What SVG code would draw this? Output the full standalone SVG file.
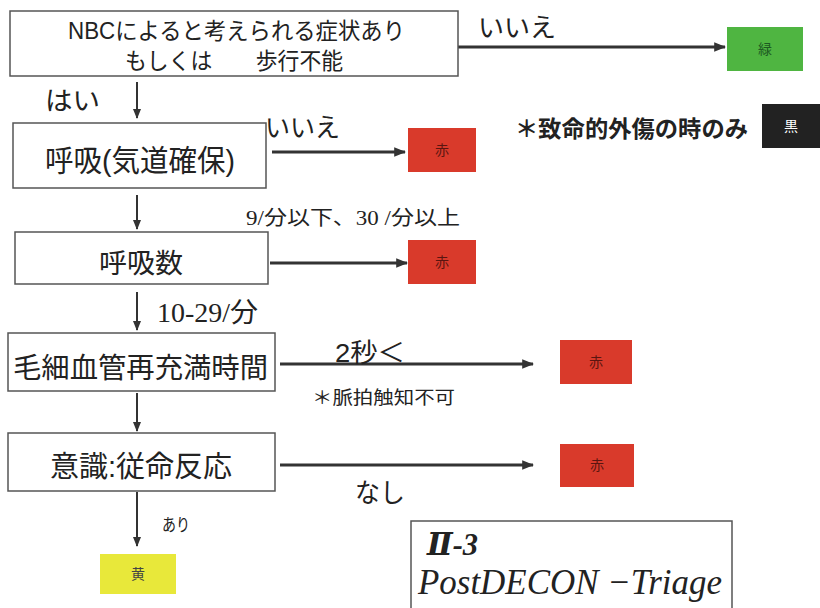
<svg xmlns="http://www.w3.org/2000/svg" width="820" height="608" viewBox="0 0 820 608">
<style>
.box{fill:#fff;stroke:#555;stroke-width:1.5}
.t{font-family:"Liberation Sans","Noto Sans CJK JP",sans-serif;fill:#222}
.s{font-family:"Liberation Serif","DejaVu Serif","Noto Sans CJK JP",serif;fill:#222}
.ln{stroke:#333;stroke-width:3;fill:none}
.lv{stroke:#333;stroke-width:2;fill:none}
.red{fill:#d93a2b}
.tag{font-family:"Noto Sans CJK JP",sans-serif;font-size:14px;text-anchor:middle}
</style>
<defs>
<marker id="ah" viewBox="0 0 10 10" refX="9" refY="5" markerWidth="4" markerHeight="4" orient="auto" markerUnits="strokeWidth"><path d="M0,1 L10,5 L0,9 Z" fill="#333"/></marker>
<marker id="av" viewBox="0 0 10 10" refX="9" refY="5" markerWidth="5" markerHeight="5" orient="auto" markerUnits="strokeWidth"><path d="M0,1 L10,5 L0,9 Z" fill="#333"/></marker>
</defs>
<rect width="820" height="608" fill="#fff"/>

<g id="connectors">
<line class="ln" x1="458" y1="47" x2="725" y2="47" marker-end="url(#ah)"/>
<line class="lv" x1="137" y1="82" x2="137" y2="118" marker-end="url(#av)"/>
<line class="ln" x1="272" y1="152" x2="405" y2="152" marker-end="url(#ah)"/>
<line class="lv" x1="137" y1="195" x2="137" y2="229" marker-end="url(#av)"/>
<line class="ln" x1="270" y1="263" x2="407" y2="263" marker-end="url(#ah)"/>
<line class="lv" x1="137" y1="292" x2="137" y2="330" marker-end="url(#av)"/>
<line class="ln" x1="280" y1="364" x2="533" y2="364" marker-end="url(#ah)"/>
<line class="lv" x1="137" y1="393" x2="137" y2="431" marker-end="url(#av)"/>
<line class="ln" x1="280" y1="465" x2="533" y2="465" marker-end="url(#ah)"/>
<line class="lv" x1="137" y1="492" x2="137" y2="546" marker-end="url(#av)"/>
<text class="t" x="478" y="37" font-size="26" textLength="78" lengthAdjust="spacingAndGlyphs">いいえ</text>
<text class="t" x="45" y="110" font-size="26" textLength="55" lengthAdjust="spacingAndGlyphs">はい</text>
<text class="t" x="265" y="137" font-size="26" textLength="75" lengthAdjust="spacingAndGlyphs">いいえ</text>
<text class="s" x="246" y="225" font-size="20" textLength="214" lengthAdjust="spacingAndGlyphs">9/分以下、30 /分以上</text>
<text class="s" x="157" y="322" font-size="27" textLength="101" lengthAdjust="spacingAndGlyphs">10-29/分</text>
<text class="t" x="335" y="362" font-size="26" textLength="70" lengthAdjust="spacingAndGlyphs">2秒＜</text>
<text class="t" x="312" y="404" font-size="18" textLength="143" lengthAdjust="spacingAndGlyphs">＊脈拍触知不可</text>
<text class="t" x="355" y="502" font-size="26" textLength="50" lengthAdjust="spacingAndGlyphs">なし</text>
<text class="t" x="162" y="531" font-size="17" textLength="28" lengthAdjust="spacingAndGlyphs">あり</text>
</g>

<g id="n1"><rect class="box" x="10" y="11" width="448" height="65"/>
<text class="t" x="68" y="39" font-size="23" textLength="337" lengthAdjust="spacingAndGlyphs">NBCによると考えられる症状あり</text>
<text class="t" x="125" y="69" font-size="23" textLength="218" lengthAdjust="spacingAndGlyphs">もしくは　　歩行不能</text></g>
<g id="green"><rect x="727" y="27" width="76" height="44" fill="#4fb541"/><text class="tag" x="765" y="54" fill="#1d5a22">緑</text></g>
<g id="n2"><rect class="box" x="13" y="123" width="253" height="65"/>
<text class="t" x="45" y="171" font-size="30" textLength="190" lengthAdjust="spacingAndGlyphs">呼吸(気道確保)</text></g>
<g id="red1"><rect class="red" x="408" y="128" width="68" height="44"/><text class="tag" x="442" y="155" fill="#5a1510">赤</text></g>
<g id="note1"><text class="t" x="515" y="137" font-size="23" font-weight="bold" textLength="233" lengthAdjust="spacingAndGlyphs">＊致命的外傷の時のみ</text></g>
<g id="black"><rect x="762" y="104" width="58" height="44" fill="#222"/><text class="tag" x="791" y="131" fill="#fff">黒</text></g>
<g id="n3"><rect class="box" x="15" y="232" width="253" height="52"/>
<text class="t" x="99" y="273" font-size="27" textLength="84" lengthAdjust="spacingAndGlyphs">呼吸数</text></g>
<g id="red2"><rect class="red" x="408" y="240" width="68" height="44"/><text class="tag" x="442" y="267" fill="#5a1510">赤</text></g>
<g id="n4"><rect class="box" x="8" y="333" width="267" height="58"/>
<text class="t" x="13" y="378" font-size="28" textLength="255" lengthAdjust="spacingAndGlyphs">毛細血管再充満時間</text></g>
<g id="red3"><rect class="red" x="560" y="340" width="72" height="44"/><text class="tag" x="596" y="367" fill="#5a1510">赤</text></g>
<g id="n5"><rect class="box" x="8" y="433" width="267" height="58"/>
<text class="t" x="50" y="477" font-size="29" textLength="182" lengthAdjust="spacingAndGlyphs">意識:従命反応</text></g>
<g id="red4"><rect class="red" x="560" y="444" width="74" height="43"/><text class="tag" x="597" y="470" fill="#5a1510">赤</text></g>
<g id="yellow"><rect x="100" y="554" width="76" height="40" fill="#e8e83a"/><text class="tag" x="138" y="579" fill="#444">黄</text></g>
<g id="label"><rect class="box" x="411" y="521" width="321" height="95"/>
<text class="s" x="427" y="555" font-size="32" font-style="italic" font-weight="bold" textLength="51" lengthAdjust="spacingAndGlyphs">Ⅱ-3</text>
<text class="s" x="418" y="594" font-size="35" font-style="italic" textLength="304" lengthAdjust="spacingAndGlyphs">PostDECON −Triage</text></g>
</svg>
